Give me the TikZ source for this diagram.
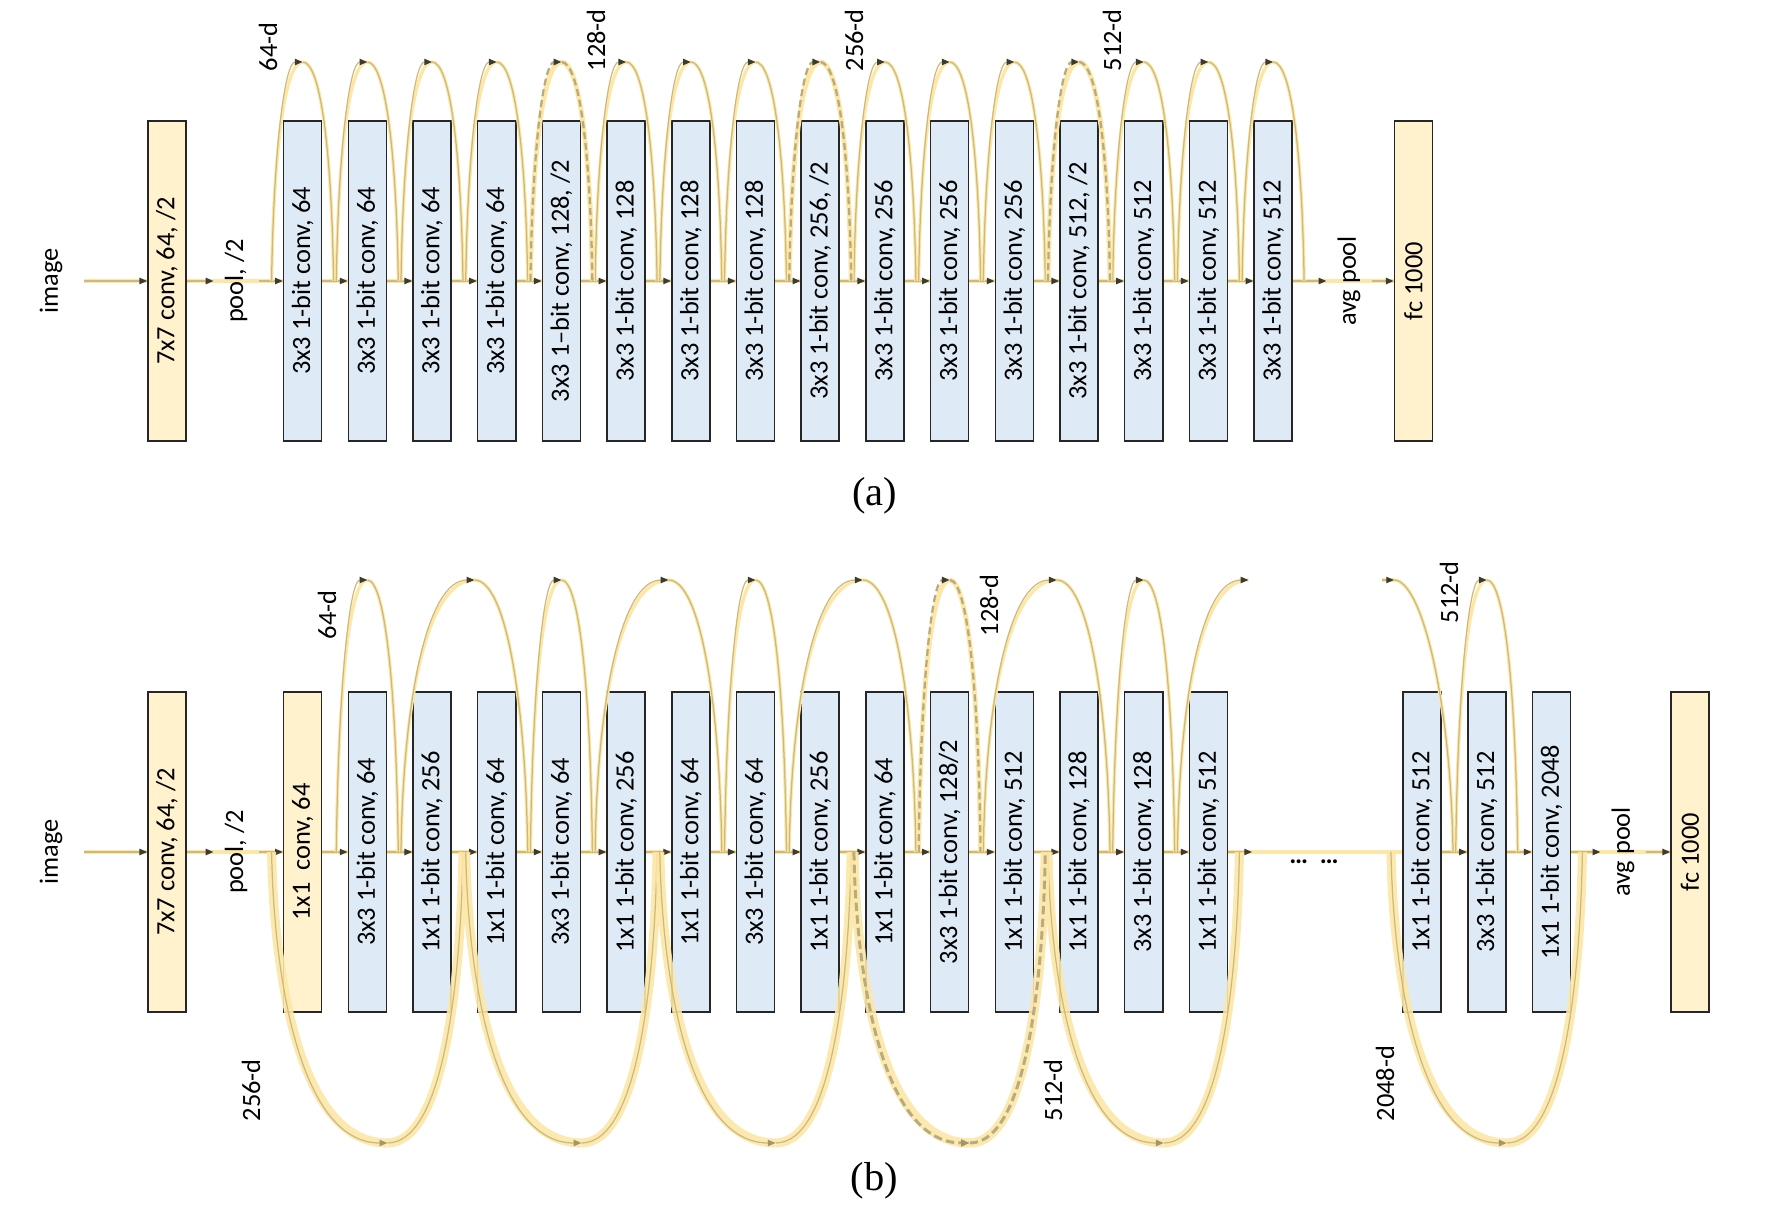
\documentclass[tikz,border=0pt]{standalone}
\usepackage{fontspec}
\setmainfont{Carlito}
\newfontfamily\capfont{Liberation Serif}
\usepackage{tikz}
\usetikzlibrary{arrows.meta, calc, backgrounds}
\definecolor{convYellow}{HTML}{FFF2CC}
\definecolor{convBlue}{HTML}{DEEBF7}
\definecolor{boxEdge}{HTML}{262626}
\definecolor{flowPale}{HTML}{FCE7A6}
\definecolor{flowTan}{HTML}{CDB87E}
\definecolor{dashTan}{HTML}{B9AB80}
\definecolor{tipDark}{HTML}{3D3A30}
\definecolor{tipTan}{HTML}{A3966C}
\newcommand{\netfont}{\fontsize{7.5}{9}\selectfont}
\tikzset{
  layer/.style={draw=boxEdge, line width=0.45pt, rotate=90, inner sep=0pt,
    minimum width=3.2cm, minimum height=0.38cm, font=\netfont},
  convbox/.style={layer, fill=convBlue},
  stembox/.style={layer, fill=convYellow},
  tag/.style={rotate=90, inner sep=3pt, font=\netfont},
  dimtag/.style={rotate=90, inner sep=0pt, anchor=west, font=\netfont},
  captag/.style={inner sep=0pt, font=\capfont\fontsize{11.5}{13}\selectfont},
  band/.style={draw=flowPale, line width=1.1pt},
  flow/.style={draw=flowTan, line width=0.4pt,
    -{Triangle[length=2.2pt, width=1.8pt, color=tipDark]}},
  tipped/.style={-{Triangle[length=2.2pt, width=1.8pt, color=tipDark]}},
  hop/.style={draw=flowTan, line width=0.35pt,
    preaction={draw=flowPale, line width=0.95pt, arrows=-}},
  hopdash/.style={draw=dashTan, line width=0.65pt, dash pattern=on 2pt off 1.1pt,
    preaction={draw=flowPale, line width=1.4pt, solid, arrows=-}},
  deep/.style={draw=flowTan, line width=0.35pt,
    -{Triangle[length=2.2pt, width=1.8pt, color=tipTan]},
    preaction={draw=flowPale, draw opacity=0.9, line width=2.6pt, arrows=-}},
  deepdash/.style={draw=dashTan, line width=0.85pt, dash pattern=on 2.4pt off 1.2pt,
    -{Triangle[length=2.4pt, width=2pt, color=tipTan]},
    preaction={draw=flowPale, draw opacity=0.9, line width=2.7pt, solid, arrows=-}}
}
% skip arc: style, first node, last node, rise, apex shift, left handle, right handle, leg factor
\newcommand{\skiparc}[8]{%
  \coordinate (sk) at ($(#2.center)!0.5!(#3.center)+(#5,{-(#4)})$);
  \draw[#1, arrows=-] (sk) .. controls +(#7,0) and +(-2,{-#8*(#4)}) .. ($(#3.center)+(31,0)$);
  \draw[tipped, #1] ($(#2.center)+(-31,0)$) .. controls +(2,{-#8*(#4)}) and +(-#6,0) .. (sk);}

\begin{document}
\begin{tikzpicture}[x=0.01cm, y=-0.01cm]
  \useasboundingbox (0,0) rectangle (1767,1219);
  % ---- (a) plain net ----
  \node[tag] (imgA) at (51,281) {image};
  \node[stembox] (c7A) at (167,281) {7x7 conv, 64, /2};
  \node[tag] (poolA) at (236,281) {pool, /2};
  \foreach \i/\txt in {1/{3x3 1-bit conv, 64}, 2/{3x3 1-bit conv, 64},
      3/{3x3 1-bit conv, 64}, 4/{3x3 1-bit conv, 64},
      5/{3x3 1--bit conv, 128, /2}, 6/{3x3 1-bit conv, 128},
      7/{3x3 1-bit conv, 128}, 8/{3x3 1-bit conv, 128},
      9/{3x3 1-bit conv, 256, /2}, 10/{3x3 1-bit conv, 256},
      11/{3x3 1-bit conv, 256}, 12/{3x3 1-bit conv, 256},
      13/{3x3 1-bit conv, 512, /2}, 14/{3x3 1-bit conv, 512},
      15/{3x3 1-bit conv, 512}, 16/{3x3 1-bit conv, 512}}
    \node[convbox] (bA\i) at ({302.6+(\i-1)*64.7},281) {\txt};
  \node[tag] (avgA) at (1349,281) {avg pool};
  \node[stembox] (fcA) at (1413.5,281) {fc 1000};
  \begin{scope}[on background layer]
    \draw[band, shorten <=0.1cm] (imgA) -- (fcA);
  \end{scope}
  \draw[flow, shorten <=0.1cm] (imgA) -- (c7A);
  \draw[flow] (c7A) -- (poolA);
  \draw[flow] (poolA) -- (bA1);
  \foreach \i [count=\j from 2] in {1,...,15}
    \draw[flow] (bA\i) -- (bA\j);
  \draw[flow] (bA16) -- (avgA);
  \draw[flow] (avgA) -- (fcA);
  % shortcuts
  \foreach \i in {1,2,3,4,6,7,8,10,11,12,14,15,16}
    \skiparc{hop}{bA\i}{bA\i}{219}{0}{18}{18}{0.6};
  \foreach \i in {5,9,13}
    \skiparc{hopdash}{bA\i}{bA\i}{219}{0}{18}{18}{0.6};
  \node[dimtag] (dA1) at (268,72) {64-d};
  \node[dimtag] (dA2) at (596,72) {128-d};
  \node[dimtag] (dA3) at (854,72) {256-d};
  \node[dimtag] (dA4) at (1112,72) {512-d};
  \node[captag] (capA) at (874.5,496) {(a)};

  % ---- (b) bottleneck net ----
  \node[tag] (imgB) at (51,852) {image};
  \node[stembox] (c7B) at (167,852) {7x7 conv, 64, /2};
  \node[tag] (poolB) at (236,852) {pool, /2};
  \node[stembox] (bB1) at (302.6,852) {1x1\ \ conv, 64};
  \foreach \i/\txt in {2/{3x3 1-bit conv, 64}, 3/{1x1 1-bit conv, 256},
      4/{1x1 1-bit conv, 64}, 5/{3x3 1-bit conv, 64},
      6/{1x1 1-bit conv, 256}, 7/{1x1 1-bit conv, 64},
      8/{3x3 1-bit conv, 64}, 9/{1x1 1-bit conv, 256},
      10/{1x1 1-bit conv, 64}, 11/{3x3 1-bit conv, 128/2},
      12/{1x1 1-bit conv, 512}, 13/{1x1 1-bit conv, 128},
      14/{3x3 1-bit conv, 128}, 15/{1x1 1-bit conv, 512}}
    \node[convbox] (bB\i) at ({302.6+(\i-1)*64.7},852) {\txt};
  \node[font=\netfont\bfseries, inner sep=0pt] (dotsB) at (1314,862) {…\ \ …};
  \coordinate (cutB) at (1252,852);
  \node[convbox] (bB16) at (1422,852) {1x1 1-bit conv, 512};
  \node[convbox] (bB17) at (1486.7,852) {3x3 1-bit conv, 512};
  \node[convbox] (bB18) at (1551.4,852) {1x1 1-bit conv, 2048};
  \node[tag] (avgB) at (1623,852) {avg pool};
  \node[stembox] (fcB) at (1690,852) {fc 1000};
  \begin{scope}[on background layer]
    \draw[band, shorten <=0.1cm] (imgB) -- (fcB);
  \end{scope}
  \draw[flow, shorten <=0.1cm] (imgB) -- (c7B);
  \draw[flow] (c7B) -- (poolB);
  \draw[flow] (poolB) -- (bB1);
  \foreach \i [count=\j from 2] in {1,...,14}
    \draw[flow] (bB\i) -- (bB\j);
  \draw[flow] (bB15) -- (cutB);
  \draw[flow] (bB16) -- (bB17);
  \draw[flow] (bB17) -- (bB18);
  \draw[flow] (bB18) -- (avgB);
  \draw[flow] (avgB) -- (fcB);
  % top shortcuts
  \foreach \i in {2,5,8,14,17}
    \skiparc{hop}{bB\i}{bB\i}{272}{0}{18}{18}{0.6};
  \skiparc{hopdash}{bB11}{bB11}{272}{0}{18}{18}{0.6};
  \foreach \i/\j in {3/4,6/7,9/10,12/13}
    \skiparc{hop}{bB\i}{bB\j}{272}{10}{48}{32}{0.55};
  \draw[hop, tipped] ($(bB15.center)+(-31,0)$) .. controls +(2,-150) and +(-48,0) .. ($(bB15.center)+(40,-272)$);
  \draw[hop] ($(bB16.center)+(-28,-272)$) .. controls +(28,0) and +(-2,-150) .. ($(bB16.center)+(31,0)$);
  \draw[hop, tipped] ($(bB16.center)+(-40,-272)$) -- ($(bB16.center)+(-28,-272)$);
  % bottom shortcuts
  \foreach \i/\j in {1/3,4/6,7/9,13/15,16/18}
    \skiparc{deep}{bB\i}{bB\j}{-291}{20}{90}{59}{0.4};
  \skiparc{deepdash}{bB10}{bB12}{-291}{20}{90}{59}{0.4};
  \node[dimtag] (dB1) at (327,640) {64-d};
  \node[dimtag] (dB2) at (989,637) {128-d};
  \node[dimtag] (dB3) at (1449,624) {512-d};
  \node[dimtag] (dB4) at (251,1122) {256-d};
  \node[dimtag] (dB5) at (1053,1122) {512-d};
  \node[dimtag] (dB6) at (1385,1122) {2048-d};
  \node[captag] (capB) at (874.5,1181) {(b)};
\end{tikzpicture}
\end{document}
